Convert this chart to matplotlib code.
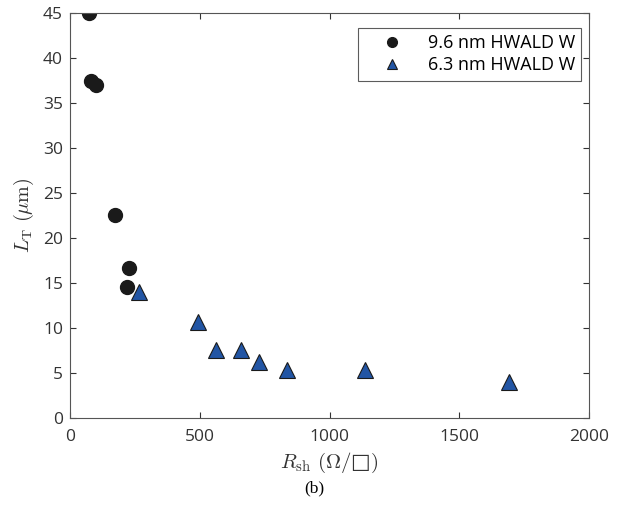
import matplotlib
matplotlib.use("Agg")
import matplotlib.pyplot as plt

# 9.6 nm HWALD W
rsh_96 = [73, 81, 100, 173, 227, 221]
lt_96 = [45.0, 37.5, 37.0, 22.6, 16.7, 14.5]

# 6.3 nm HWALD W
rsh_63 = [264, 493, 561, 658, 729, 837, 1138, 1691]
lt_63 = [14.0, 10.7, 7.5, 7.6, 6.2, 5.3, 5.3, 4.0]

plt.rcParams['font.family'] = ['Open Sans', 'DejaVu Sans']
plt.rcParams['mathtext.fontset'] = 'cm'

fig = plt.figure(figsize=(6.28, 5.12), dpi=100)
ax = fig.add_axes([0.1115, 0.1836, 0.8265, 0.791])

ax.plot(rsh_96, lt_96, 'o', color='#1a1a1a', markersize=10, label='9.6 nm HWALD W')
ax.plot(rsh_63, lt_63, '^', color='#2255a4', markeredgecolor='#1a1a1a',
        markeredgewidth=0.8, markersize=11, label='6.3 nm HWALD W')

ax.set_xlim(0, 2000)
ax.set_ylim(0, 45)
ax.set_xticks([0, 500, 1000, 1500, 2000])
ax.set_yticks(range(0, 46, 5))
ax.tick_params(direction='in', top=True, right=True, labelsize=12.5,
               colors='#333333', length=4, pad=5)
ax.tick_params(axis='x', pad=8)
for s in ax.spines.values():
    s.set_color('#555555')
    s.set_linewidth(0.8)

ax.set_xlabel(r'$R_{\rm sh}\ (\Omega/$' + '\u25a1' + r'$)$', fontsize=15,
              color='#333333', family=['DejaVu Sans'], labelpad=4)
ax.set_ylabel(r'$L_{\rm T}\ (\mu{\rm m})$', fontsize=14.5, color='#333333',
              labelpad=5)

leg = ax.legend(loc='upper right', fontsize=13, frameon=True, fancybox=False,
                edgecolor='#333333', borderpad=0.35, handletextpad=0.5,
                handlelength=3.0, markerscale=0.7, labelspacing=0.25,
                borderaxespad=0, bbox_to_anchor=(0.985, 0.964))
leg.get_frame().set_linewidth(0.8)

fig.text(0.5, 0.047, '(b)', ha='center', va='center', fontsize=12.5,
         family='Liberation Serif')

fig.savefig('out.png', dpi=100)
